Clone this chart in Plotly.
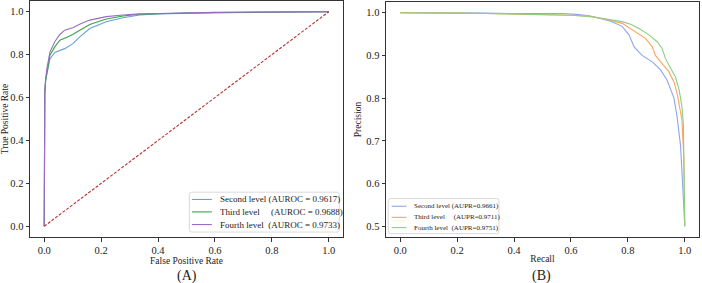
import plotly.graph_objects as go

# ---------------- data ----------------
roc_second_fpr = [0, 0, 0.002, 0.005, 0.01, 0.02, 0.037, 0.072, 0.10, 0.125, 0.16, 0.218, 0.277, 0.335, 0.40, 0.5, 0.6, 0.8, 1.0]
roc_second_tpr = [0, 0.5, 0.62, 0.68, 0.72, 0.78, 0.81, 0.828, 0.85, 0.883, 0.922, 0.953, 0.972, 0.985, 0.99, 0.993, 0.995, 0.998, 1.0]
roc_third_fpr = [0, 0, 0.002, 0.005, 0.01, 0.02, 0.037, 0.055, 0.078, 0.10, 0.125, 0.16, 0.218, 0.277, 0.335, 0.4, 0.5, 0.6, 0.8, 1.0]
roc_third_tpr = [0, 0.5, 0.62, 0.68, 0.72, 0.797, 0.836, 0.867, 0.88, 0.894, 0.914, 0.94, 0.966, 0.98, 0.988, 0.991, 0.994, 0.996, 0.998, 1.0]
roc_fourth_fpr = [0, 0, 0.002, 0.005, 0.01, 0.02, 0.037, 0.055, 0.072, 0.10, 0.13, 0.16, 0.218, 0.277, 0.335, 0.4, 0.5, 0.6, 0.8, 1.0]
roc_fourth_tpr = [0, 0.5, 0.63, 0.69, 0.74, 0.812, 0.86, 0.894, 0.914, 0.925, 0.945, 0.961, 0.977, 0.985, 0.99, 0.992, 0.995, 0.997, 0.999, 1.0]
diag = [0, 1]

pr_second_recall = [0, 0.1, 0.2, 0.3, 0.4, 0.5, 0.57, 0.62, 0.664, 0.70, 0.74, 0.78, 0.804, 0.822, 0.85, 0.886, 0.915, 0.938, 0.95, 0.962, 0.973, 0.985, 0.99, 0.995, 1.0]
pr_second_prec = [1.0, 1.0, 1.0, 0.999, 0.998, 0.998, 0.998, 0.996, 0.993, 0.987, 0.98, 0.968, 0.948, 0.92, 0.90, 0.885, 0.866, 0.842, 0.822, 0.80, 0.756, 0.69, 0.63, 0.57, 0.5]
pr_third_recall = [0, 0.1, 0.2, 0.3, 0.4, 0.5, 0.6, 0.664, 0.72, 0.78, 0.827, 0.862, 0.886, 0.897, 0.915, 0.944, 0.962, 0.973, 0.99, 0.997, 1.0]
pr_third_prec = [1.0, 1.0, 0.999, 0.998, 0.997, 0.996, 0.994, 0.992, 0.985, 0.975, 0.955, 0.94, 0.92, 0.90, 0.885, 0.862, 0.838, 0.811, 0.749, 0.655, 0.5]
pr_fourth_recall = [0, 0.1, 0.2, 0.3, 0.4, 0.5, 0.6, 0.68, 0.74, 0.78, 0.81, 0.839, 0.874, 0.903, 0.92, 0.932, 0.95, 0.967, 0.98, 0.99, 0.995, 1.0]
pr_fourth_prec = [1.0, 1.0, 0.999, 0.998, 0.997, 0.996, 0.994, 0.99, 0.983, 0.979, 0.973, 0.963, 0.948, 0.932, 0.917, 0.893, 0.87, 0.85, 0.82, 0.78, 0.74, 0.5]

roc_labels = ["Second level (AUROC = 0.9617)",
              "Third level\u00a0\u00a0\u00a0\u00a0\u00a0(AUROC = 0.9688)",
              "Fourth level\u00a0\u00a0(AUROC = 0.9733)"]
pr_labels = ["Second level (AUPR=0.9661)",
             "Third level\u00a0\u00a0\u00a0\u00a0\u00a0(AUPR=0.9711)",
             "Fourth level\u00a0\u00a0(AUPR=0.9751)"]
roc_colors = ["#6a9fd8", "#3aa24a", "#9a6cc2"]
pr_colors = ["#8aa8ea", "#ffa45e", "#8ccf86"]
diag_color = "#b8322c"

FONT = "Liberation Serif, Times New Roman, serif"
TXT = "#222222"

fig = go.Figure()

roc_sets = [(roc_second_fpr, roc_second_tpr), (roc_third_fpr, roc_third_tpr), (roc_fourth_fpr, roc_fourth_tpr)]
for (x, y), c, n in zip(roc_sets, roc_colors, roc_labels):
    fig.add_trace(go.Scatter(x=x, y=y, mode="lines", line=dict(color=c, width=1.1),
                             name=n, xaxis="x", yaxis="y", showlegend=False))
fig.add_trace(go.Scatter(x=diag, y=diag, mode="lines",
                         line=dict(color=diag_color, width=1.1, dash="3px,1.6px"),
                         xaxis="x", yaxis="y", showlegend=False))

pr_sets = [(pr_second_recall, pr_second_prec), (pr_third_recall, pr_third_prec), (pr_fourth_recall, pr_fourth_prec)]
for (x, y), c, n in zip(pr_sets, pr_colors, pr_labels):
    fig.add_trace(go.Scatter(x=x, y=y, mode="lines", line=dict(color=c, width=1.1),
                             name=n, xaxis="x2", yaxis="y2", showlegend=False))

W, H = 702, 283
ax_common = dict(showline=True, mirror=True, linecolor="#333333", linewidth=1,
                 ticks="outside", ticklen=3.5, tickcolor="#333333", tickwidth=1,
                 showgrid=False, zeroline=False, automargin=False,
                 tickfont=dict(family=FONT, size=10.5, color=TXT))
ticks01 = [0, 0.2, 0.4, 0.6, 0.8, 1.0]
ticks_pr = [0.5, 0.6, 0.7, 0.8, 0.9, 1.0]

fig.update_layout(
    width=W, height=H, margin=dict(l=0, r=0, t=0, b=0, pad=0),
    paper_bgcolor="white", plot_bgcolor="white", showlegend=False,
    xaxis=dict(domain=[30 / W, 343 / W], range=[-0.05, 1.05], tickvals=ticks01, tickformat=".1f",
               title=dict(text="False Positive Rate", font=dict(family=FONT, size=9.5, color=TXT), standoff=0),
               anchor="y", **ax_common),
    yaxis=dict(domain=[46 / H, 282 / H], range=[-0.05, 1.05], tickvals=ticks01, tickformat=".1f",
               title=dict(text="True Positive Rate", font=dict(family=FONT, size=9.5, color=TXT), standoff=2),
               anchor="x", **ax_common),
    xaxis2=dict(domain=[386 / W, 699 / W], range=[-0.05, 1.05], tickvals=ticks01, tickformat=".1f",
                title=dict(text="Recall", font=dict(family=FONT, size=9.5, color=TXT), standoff=0),
                anchor="y2", **ax_common),
    yaxis2=dict(domain=[46 / H, 281 / H], range=[0.475, 1.025], tickvals=ticks_pr, tickformat=".1f",
                title=dict(text="Precision", font=dict(family=FONT, size=9.5, color=TXT), standoff=2),
                anchor="x2", **ax_common),
)

# ---- manual legends (matplotlib style) ----
def rounded_box(xref, yref, x0, x1, y0, y1, rx, ry):
    path = (f"M {x0+rx},{y0} L {x1-rx},{y0} Q {x1},{y0} {x1},{y0+ry} "
            f"L {x1},{y1-ry} Q {x1},{y1} {x1-rx},{y1} L {x0+rx},{y1} "
            f"Q {x0},{y1} {x0},{y1-ry} L {x0},{y0+ry} Q {x0},{y0} {x0+rx},{y0} Z")
    fig.add_shape(type="path", path=path, xref=xref, yref=yref,
                  line=dict(color="#d0d0d0", width=0.8), fillcolor="rgba(255,255,255,0.85)", layer="above")

# legend A
rounded_box("x", "y", 0.51, 1.037, -0.027, 0.159, 0.008, 0.012)
rows_a = [0.125, 0.067, 0.008]
for r, c, t in zip(rows_a, roc_colors, roc_labels):
    fig.add_shape(type="line", xref="x", yref="y", x0=0.519, x1=0.589, y0=r, y1=r,
                  line=dict(color=c, width=1.1), layer="above")
    fig.add_annotation(x=0.609, y=r, xref="x", yref="y", text=t, showarrow=False,
                       xanchor="left", yanchor="middle", font=dict(family=FONT, size=9, color=TXT))

# legend B
rounded_box("x2", "y2", -0.042, 0.347, 0.483, 0.565, 0.008, 0.006)
rows_b = [0.547, 0.521, 0.497]
for r, c, t in zip(rows_b, pr_colors, pr_labels):
    fig.add_shape(type="line", xref="x2", yref="y2", x0=-0.03, x1=0.022, y0=r, y1=r,
                  line=dict(color=c, width=1.1), layer="above")
    fig.add_annotation(x=0.04, y=r, xref="x2", yref="y2", text=t, showarrow=False,
                       xanchor="left", yanchor="middle", font=dict(family=FONT, size=7, color=TXT))

# panel captions
fig.add_annotation(x=186.5 / W, y=(H - 276) / H, xref="paper", yref="paper", text="(A)", showarrow=False,
                   xanchor="center", yanchor="middle", font=dict(family=FONT, size=14, color=TXT))
fig.add_annotation(x=541 / W, y=(H - 276) / H, xref="paper", yref="paper", text="(B)", showarrow=False,
                   xanchor="center", yanchor="middle", font=dict(family=FONT, size=14, color=TXT))

fig.write_html("out.html", config={"displayModeBar": False},
               post_script="document.body.style.margin='0px';document.body.style.overflow='hidden';")
